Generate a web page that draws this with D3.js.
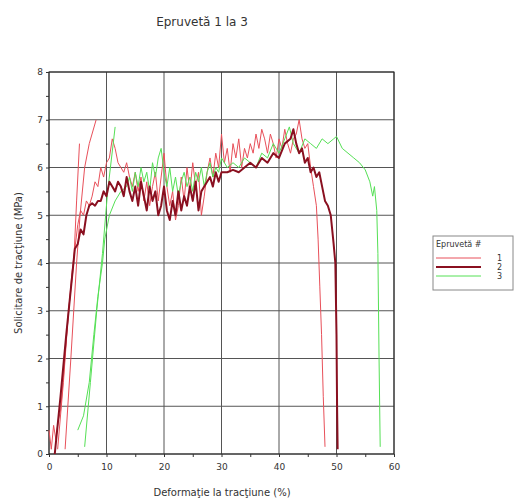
<!DOCTYPE html>
<html><head><meta charset="utf-8">
<script src="https://cdn.jsdelivr.net/npm/d3@7"></script>
<style>body{margin:0;background:#fff}svg{display:block}text{font-family:"DejaVu Sans",Verdana,sans-serif;fill:#333}</style>
</head><body><svg id="c" width="514" height="501"></svg>
<script>
const title = "Epruvetă 1 la 3";
const xLabel = "Deformaţie la tracţiune (%)";
const yLabel = "Solicitare de tracţiune (MPa)";
const legendTitle = "Epruvetă #";
const seriesNames = ["1", "2", "3"];
const xTicks = [0, 10, 20, 30, 40, 50, 60];
const yTicks = [0, 1, 2, 3, 4, 5, 6, 7, 8];

// Epruvetă 1 (main curve)
const serie1 = [[0,0.5],[0.4,0.1],[0.8,0.6],[1.2,0.3],[1.6,0.7],[2,0.9],[2.5,1.6],[3,2.4],[3.5,3.1],[4,3.8],[4.5,4.3],[5,4.8],[5.5,5.1],[6,5.0],[6.5,5.3],[7,5.2],[7.5,5.4],[8,5.7],[8.5,5.6],[9,6.0],[9.5,5.8],[10,6.1],[10.5,6.2],[11,6.6],[11.5,6.4],[12,6.1],[12.5,6.0],[13,5.9],[13.5,6.1],[14,5.8],[14.5,5.6],[15,5.9],[15.5,5.5],[16,5.8],[16.5,5.3],[17,5.7],[17.5,5.2],[18,5.6],[18.5,5.9],[19,5.3],[19.5,5.8],[20,6.3],[20.5,5.6],[21,5.2],[21.5,5.5],[22,4.9],[22.5,5.2],[23,5.8],[23.5,5.3],[24,6.0],[24.5,5.5],[25,6.1],[25.5,5.6],[26,5.9],[26.5,5.0],[27,5.4],[27.5,5.9],[28,6.2],[28.5,5.8],[29,6.3],[29.5,6.0],[30,6.7],[30.5,6.1],[31,6.4],[31.5,5.9],[32,6.5],[32.5,6.2],[33,6.6],[33.5,6.0],[34,6.4],[34.5,6.2],[35,6.5],[35.5,6.3],[36,6.7],[36.5,6.4],[37,6.8],[37.5,6.6],[38,6.3],[38.5,6.7],[39,6.5],[39.5,6.2],[40,6.6],[40.5,6.4],[41,6.8],[41.5,6.5],[42,6.3],[42.5,6.6],[43,6.7],[43.5,7.0],[44,6.6],[44.5,6.4],[45,6.5],[45.5,6.0],[46,5.6],[46.5,5.2],[46.8,4.5],[47.1,3.5],[47.4,2.5],[47.7,1.2],[48,0.15]];
// Epruvetă 1 (extra loading segments)
const serie1a = [[1.5,0.1],[2.5,1.5],[3.4,3.0],[4.3,4.0],[4.8,5.3],[5.3,6.5]];
const serie1b = [[2.8,0.1],[3.8,2.0],[4.8,4.0],[5.4,5.0],[6.2,6.0],[7.0,6.5],[8.2,7.0]];
// Epruvetă 2
const serie2 = [[1.0,0.0],[2,1.2],[3,2.5],[4,3.7],[4.5,4.3],[5,4.4],[5.5,4.7],[6,4.6],[6.5,5.0],[7,5.2],[7.5,5.25],[8,5.2],[8.5,5.3],[9,5.3],[9.5,5.5],[10,5.4],[10.5,5.7],[11,5.6],[11.5,5.5],[12,5.7],[12.5,5.6],[13,5.4],[13.5,5.8],[14,5.5],[14.5,5.3],[15,5.6],[15.5,5.2],[16,5.7],[16.5,5.4],[17,5.1],[17.5,5.6],[18,5.3],[18.5,5.5],[19,5.0],[19.5,5.2],[20,5.6],[20.5,5.1],[21,4.9],[21.5,5.3],[22,5.0],[22.5,5.5],[23,5.1],[23.5,5.4],[24,5.2],[24.5,5.6],[25,5.3],[25.5,5.7],[26,5.1],[26.5,5.5],[27,5.6],[27.5,5.7],[28,5.8],[28.5,5.6],[29,5.9],[29.5,5.7],[30,5.9],[31,5.9],[32,5.95],[33,5.9],[34,6.0],[35,6.1],[36,6.0],[37,6.2],[38,6.1],[39,6.3],[40,6.2],[41,6.5],[42,6.6],[42.5,6.8],[43,6.5],[43.5,6.3],[44,6.4],[44.5,6.1],[45,6.2],[45.5,5.9],[46,6.0],[46.5,5.8],[47,5.9],[47.5,5.6],[48,5.3],[48.5,5.2],[49,5.0],[49.5,4.4],[49.8,4.0],[50.0,2.5],[50.1,1.0],[50.2,0.1]];
// Epruvetă 3
const serie3 = [[5.0,0.5],[6,0.8],[7,1.5],[7.8,2.5],[8.5,3.3],[9.3,4.0],[9.7,4.5],[10.5,5.0],[11.5,5.3],[12.5,5.5],[13.5,5.6],[14,5.8],[14.5,5.5],[15,5.9],[15.5,5.6],[16,6.0],[16.5,5.7],[17,5.9],[17.5,5.5],[18,6.1],[18.5,5.8],[19,6.2],[19.5,6.4],[20,5.9],[20.5,5.6],[21,6.0],[21.5,5.5],[22,5.8],[22.5,5.4],[23,5.7],[23.5,5.9],[24,5.6],[24.5,5.8],[25,5.5],[25.5,5.9],[26,5.7],[26.5,6.0],[27,5.6],[27.5,5.9],[28,6.1],[28.5,5.8],[29,6.0],[29.5,5.9],[30,6.2],[31,6.0],[32,6.1],[33,6.0],[34,6.2],[35,6.1],[36,6.0],[37,6.3],[38,6.2],[39,6.5],[40,6.3],[41,6.6],[41.8,6.85],[42.5,6.5],[43.5,6.3],[44.5,6.6],[45.5,6.5],[46.5,6.4],[47.5,6.6],[48.5,6.5],[49.5,6.6],[50,6.65],[51,6.4],[52,6.3],[53,6.2],[54,6.1],[55,5.95],[55.8,5.7],[56.3,5.4],[56.6,5.6],[57,5.1],[57.2,4.2],[57.4,2.0],[57.6,0.15]];
const serie3a = [[6.2,0.15],[7.2,1.5],[8.3,3.0],[9.3,4.2],[10.2,5.5],[11.5,6.85]];

const colors = ["#e8505a", "#8a1020", "#55e055"];
const widths = [1, 2, 1];

const svg = d3.select("#c");
const m = {l: 49, r: 120, t: 72, b: 47};
const W = 514, H = 501;
const x = d3.scaleLinear().domain([0, 60]).range([m.l, W - m.r]);
const y = d3.scaleLinear().domain([0, 8]).range([H - m.b, m.t]);

// grid
svg.append("g").selectAll("line").data(xTicks).join("line")
  .attr("x1", d => x(d)).attr("x2", d => x(d)).attr("y1", y(0)).attr("y2", y(8))
  .attr("stroke", "#555").attr("stroke-width", 1);
svg.append("g").selectAll("line").data(yTicks).join("line")
  .attr("x1", x(0)).attr("x2", x(60)).attr("y1", d => y(d)).attr("y2", d => y(d))
  .attr("stroke", "#555").attr("stroke-width", 1);
svg.append("rect").attr("x", x(0)).attr("y", y(8)).attr("width", x(60) - x(0)).attr("height", y(0) - y(8))
  .attr("fill", "none").attr("stroke", "#222").attr("stroke-width", 1);

// axes
const xAxis = svg.append("g").attr("transform", `translate(0,${y(0)})`)
  .call(d3.axisBottom(x).tickValues(d3.range(0, 61, 5)).tickSize(3).tickFormat(d => d % 10 === 0 ? d : ""));
const yAxis = svg.append("g").attr("transform", `translate(${x(0)},0)`)
  .call(d3.axisLeft(y).tickValues(d3.range(0, 8.01, 0.5)).tickSize(3).tickFormat(d => Number.isInteger(d) ? d : ""));
[xAxis, yAxis].forEach(a => {
  a.select(".domain").remove();
  a.selectAll("line").attr("stroke", "#333");
  a.selectAll("text").attr("font-size", 9).attr("fill", "#444").style("font-family", "DejaVu Sans, Verdana, sans-serif");
});
xAxis.selectAll("text").attr("dy", "1.1em");

// series
const line = d3.line().x(d => x(d[0])).y(d => y(d[1]));
const paths = [[serie1, 0], [serie1a, 0], [serie1b, 0], [serie3, 2], [serie3a, 2], [serie2, 1]];
paths.forEach(([data, i]) => {
  svg.append("path").datum(data).attr("d", line).attr("fill", "none")
    .attr("stroke", colors[i]).attr("stroke-width", widths[i]).attr("stroke-linejoin", "round");
});

// title and labels
svg.append("text").attr("x", 202).attr("y", 26).attr("text-anchor", "middle").attr("font-size", 12).text(title);
svg.append("text").attr("x", 222).attr("y", 496).attr("text-anchor", "middle").attr("font-size", 10).text(xLabel);
svg.append("text").attr("transform", `translate(22,${(y(0) + y(8)) / 2}) rotate(-90)`).attr("text-anchor", "middle").attr("font-size", 10).text(yLabel);

// legend
const lg = svg.append("g").attr("transform", "translate(433,236)");
lg.append("rect").attr("width", 80).attr("height", 54).attr("fill", "#fff").attr("stroke", "#888");
lg.append("text").attr("x", 3).attr("y", 11).attr("font-size", 8).text(legendTitle);
seriesNames.forEach((n, i) => {
  const yy = 22 + i * 9;
  lg.append("line").attr("x1", 3).attr("x2", 48).attr("y1", yy).attr("y2", yy)
    .attr("stroke", colors[i]).attr("stroke-width", widths[i]);
  lg.append("text").attr("x", 64).attr("y", yy + 3).attr("font-size", 8).text(n);
});
</script></body></html>
